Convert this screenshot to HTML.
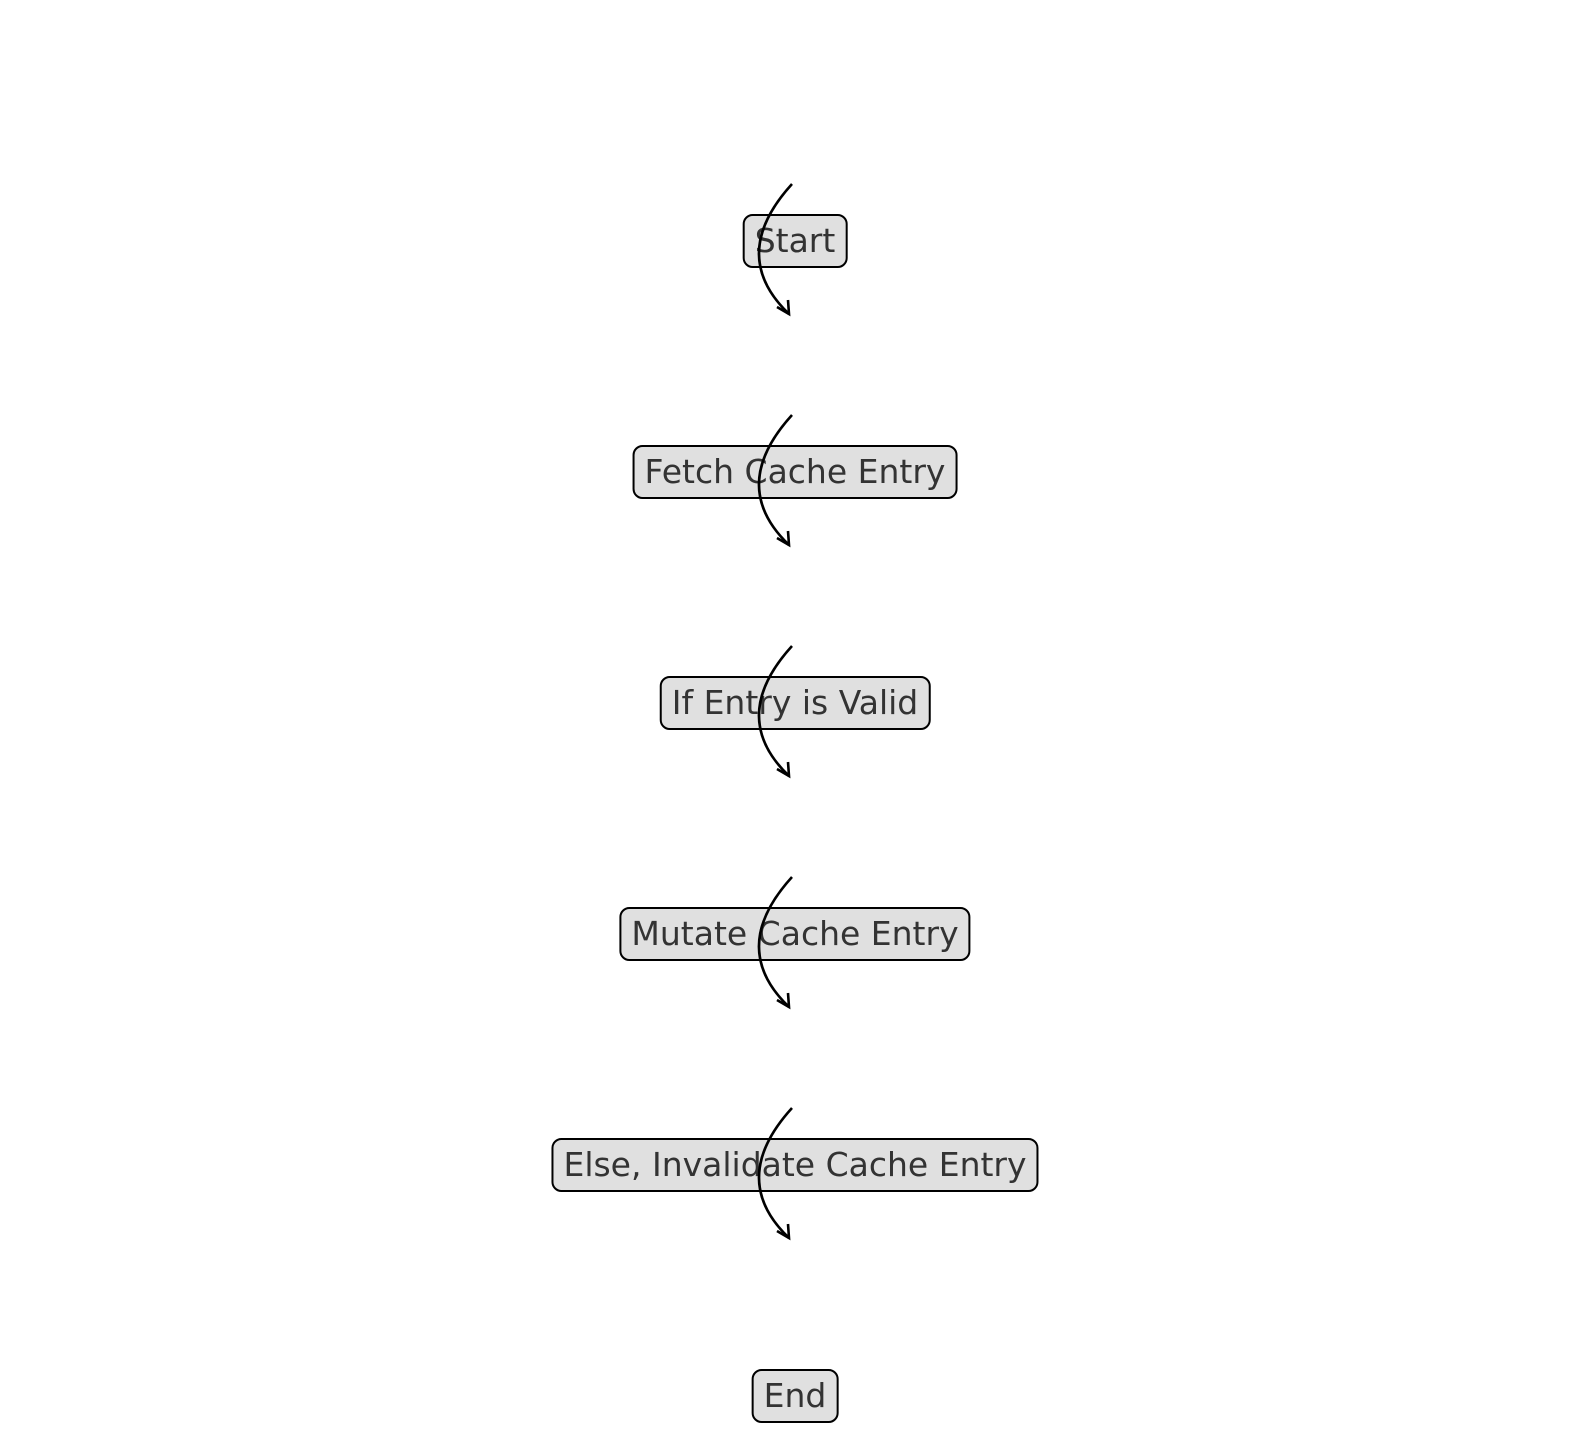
<!DOCTYPE html>
<html><head><style>
body{margin:0;width:1589px;height:1433px;background:#fff;position:relative;overflow:hidden}
.n{position:absolute;left:795px;transform:translate(-50%,-50%);background:#e0e0e0;border:2.8px solid #000;border-radius:10px;padding:0 10px;height:50px;line-height:50px;font-family:"DejaVu Sans","Liberation Sans",sans-serif;font-size:33px;color:#333;white-space:nowrap}
svg{position:absolute;left:0;top:0}
</style></head><body>
<div class="n" style="top:241px">Start</div>
<div class="n" style="top:472px">Fetch Cache Entry</div>
<div class="n" style="top:703px">If Entry is Valid</div>
<div class="n" style="top:934px">Mutate Cache Entry</div>
<div class="n" style="top:1165px">Else, Invalidate Cache Entry</div>
<div class="n" style="top:1396px">End</div>
<svg width="1589" height="1433">
<g fill="none" stroke="#000" stroke-width="2.6">
<path d="M792,184 Q727.5,255 789,314"/>
<path d="M792,415 Q727.5,486 789,545"/>
<path d="M792,646 Q727.5,717 789,776"/>
<path d="M792,877 Q727.5,948 789,1007"/>
<path d="M792,1108 Q727.5,1179 789,1238"/>
<path d="M777,307 L789,314 L788,300"/>
<path d="M777,538 L789,545 L788,531"/>
<path d="M777,769 L789,776 L788,762"/>
<path d="M777,1000 L789,1007 L788,993"/>
<path d="M777,1231 L789,1238 L788,1224"/>
</g>
</svg>
</body></html>
